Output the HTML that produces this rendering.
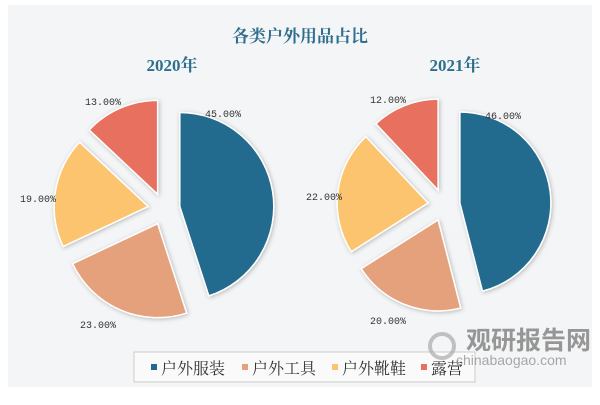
<!DOCTYPE html>
<html><head><meta charset="utf-8"><style>
body{margin:0;background:#fff;}
svg text{font-family:"Liberation Serif","Noto Serif CJK SC",serif;}
</style></head><body>
<svg id="s" width="600" height="400" viewBox="0 0 600 400" xmlns="http://www.w3.org/2000/svg">
<defs><filter id="sh" x="-20%" y="-20%" width="140%" height="140%"><feDropShadow dx="1" dy="1" stdDeviation="2" flood-color="#000" flood-opacity="0.25"/></filter></defs>
<rect x="0" y="0" width="600" height="400" fill="#fff"/>
<rect x="8" y="5" width="584" height="382" fill="#f4f5f6"/>
<text x="300" y="42" text-anchor="middle" font-size="17" font-weight="bold" fill="#2e6f8e">各类户外用品占比</text>
<text x="172" y="71" text-anchor="middle" font-size="17" font-weight="bold" fill="#2e6f8e">2020年</text>
<text x="455" y="71" text-anchor="middle" font-size="17" font-weight="bold" fill="#2e6f8e">2021年</text>
<g id="pies" filter="url(#sh)"></g>
<g font-size="10" fill="#333">
<text x="205" y="117" style="font-family:'Liberation Mono',monospace">45.00%</text>
<text x="85" y="105" style="font-family:'Liberation Mono',monospace">13.00%</text>
<text x="20" y="202" style="font-family:'Liberation Mono',monospace">19.00%</text>
<text x="80" y="328" style="font-family:'Liberation Mono',monospace">23.00%</text>
<text x="485" y="119" style="font-family:'Liberation Mono',monospace">46.00%</text>
<text x="370" y="103" style="font-family:'Liberation Mono',monospace">12.00%</text>
<text x="306" y="200" style="font-family:'Liberation Mono',monospace">22.00%</text>
<text x="370" y="324" style="font-family:'Liberation Mono',monospace">20.00%</text>
</g>
<rect x="134" y="352" width="341" height="30" fill="#fafafa" stroke="#ccc"/>
<g font-size="16" fill="#333">
<rect x="151" y="364" width="6" height="6" fill="#236b8e"/><text x="161" y="374">户外服装</text>
<rect x="242" y="364" width="6" height="6" fill="#e5a07c"/><text x="252" y="374">户外工具</text>
<rect x="332" y="364" width="6" height="6" fill="#fcc46e"/><text x="342" y="374">户外靴鞋</text>
<rect x="421" y="364" width="6" height="6" fill="#e8705f"/><text x="431" y="374">露营</text>
</g>
<text x="466" y="349" font-size="25" font-weight="bold" fill="#777" opacity="0.75" style="font-family:'Noto Sans CJK SC',sans-serif">观研报告网</text>
<text x="456" y="365" font-size="14" fill="#999" opacity="0.85" style="font-family:'Liberation Sans',sans-serif">chinabaogao.com</text>
<circle cx="442" cy="346" r="12" fill="none" stroke="#aaa" stroke-width="4" opacity="0.7"/>
</svg>
<script>
var g=document.getElementById('pies');
var cols=['#236b8e','#e5a07c','#fcc46e','#e8705f'];
function pie(cx,cy,r,vals,ex){
 var a=0;
 vals.forEach(function(v,i){
  var a0=a*2*Math.PI,a1=(a+v)*2*Math.PI,m=(a0+a1)/2;a+=v;
  var ox=cx+ex*Math.sin(m),oy=cy-ex*Math.cos(m);
  var x0=ox+r*Math.sin(a0),y0=oy-r*Math.cos(a0),x1=ox+r*Math.sin(a1),y1=oy-r*Math.cos(a1);
  var p=document.createElementNS('http://www.w3.org/2000/svg','path');
  p.setAttribute('d','M'+ox+' '+oy+'L'+x0+' '+y0+'A'+r+' '+r+' 0 '+(v>0.5?1:0)+' 1 '+x1+' '+y1+'Z');
  p.setAttribute('fill',cols[i]);p.setAttribute('stroke','#fff');p.setAttribute('stroke-width','1.5');
  g.appendChild(p);
 });
}
pie(164,209,94,[0.45,0.23,0.19,0.13],16);
pie(444,205,91,[0.46,0.20,0.22,0.12],16);
</script>
</body></html>
